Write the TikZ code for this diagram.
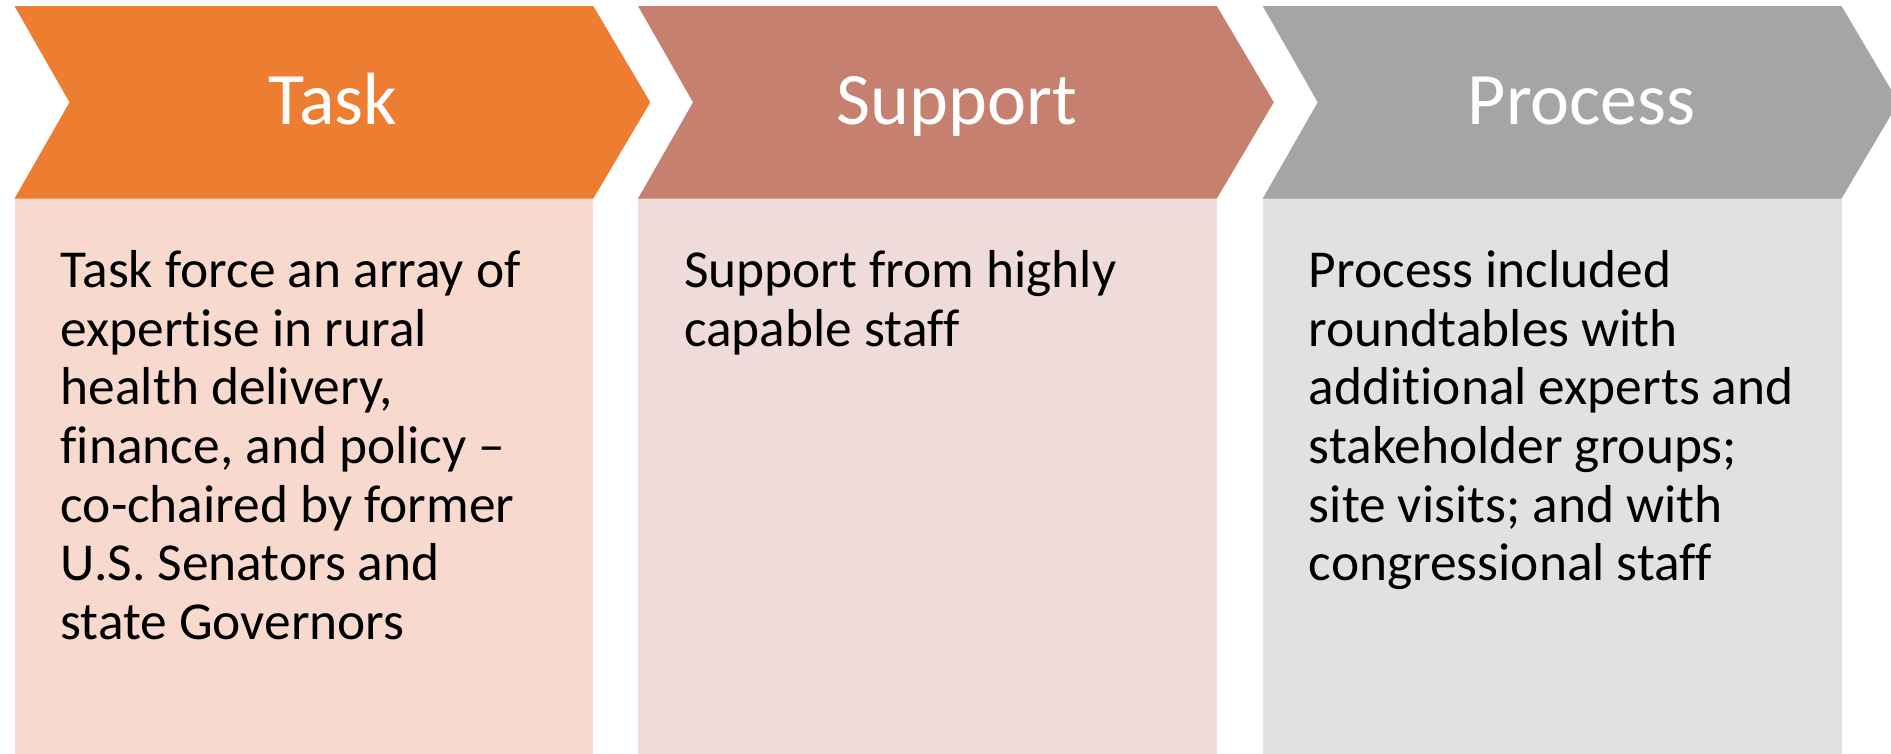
\documentclass[tikz,border=0pt]{standalone}
\usepackage{fontspec}
\setmainfont{Carlito}[Ligatures=NoCommon]
\definecolor{taskdark}{HTML}{ED7D31}
\definecolor{tasklight}{HTML}{F8D9CE}
\definecolor{supdark}{HTML}{C5806F}
\definecolor{suplight}{HTML}{EEDBDA}
\definecolor{procdark}{HTML}{A5A5A5}
\definecolor{proclight}{HTML}{E1E1E1}
\begin{document}
\begin{tikzpicture}[x=1pt,y=-1pt,
  header/.style={text=white,font=\fontsize{74}{80}\selectfont,anchor=base,inner sep=0pt},
  % multi-line nodes: the base anchor sits on the last line's baseline
  body/.style={text=black,font=\fontsize{53.4}{58.6}\selectfont,anchor=base west,align=left,inner sep=0pt}]
\useasboundingbox (0,0) rectangle (1891,753);
\clip (0,0) rectangle (1891,753);
% three columns: light text panel below a chevron header
\foreach \x/\dark/\light in {14.5/taskdark/tasklight, 638/supdark/suplight, 1262.7/procdark/proclight}{
  \fill[\light] (\x,196.6) rectangle ++(578.8,570);
  \fill[\dark] (\x,6) -- ++(578.8,0) -- ++(57,96.3) -- ++(-57,96.3)
    -- ++(-578.8,0) -- ++(55,-96.3) -- cycle;
}
% headers
\node[header] (task) at (332.9,124) {Task};
\node[header] (support) at (957,124) {Support};
\node[header] (process) at (1581.7,124) {Process};
% panel texts (first baseline at 287.7, line pitch 58.6)
\node[body] (taskbody) at (60.5,639.3) {Task force an array of\\expertise in rural\\health delivery,\\finance, and policy \textendash\\co-chaired by former\\U.S. Senators and\\state Governors};
\node[body] (supportbody) at (684,346.3) {Support from highly\\capable staff};
\node[body] (processbody) at (1308.7,580.7) {Process included\\roundtables with\\additional experts and\\stakeholder groups;\\site visits; and with\\congressional staff};
\end{tikzpicture}
\end{document}
